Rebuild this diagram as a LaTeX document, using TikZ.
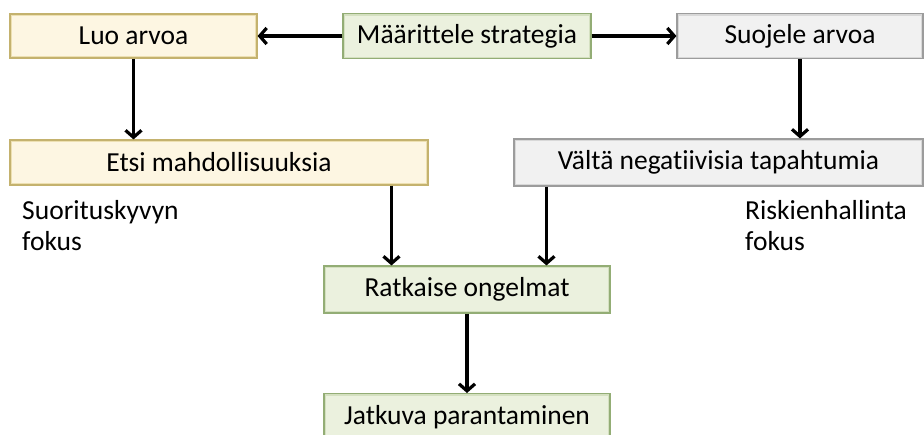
\documentclass[tikz,border=0pt]{standalone}
\usepackage{fontspec}
\setmainfont{Carlito}[Ligatures=NoCommon]
\usetikzlibrary{arrows.meta}

\definecolor{creamfill}{HTML}{FDF6E2}
\definecolor{creamedge}{HTML}{C4B26E}
\definecolor{creambevel}{HTML}{EDE0B2}
\definecolor{greenfill}{HTML}{EBF1DE}
\definecolor{greenedge}{HTML}{93AD75}
\definecolor{greenbevel}{HTML}{D4E0C0}
\definecolor{grayfill}{HTML}{F1F1F1}
\definecolor{grayedge}{HTML}{9C9C9C}
\definecolor{graybevel}{HTML}{D8D8D8}

\tikzset{
  box/.style={draw=#1edge, fill=#1fill, line width=1.1pt, inner sep=0pt,
    font=\fontsize{27.5}{32}\selectfont,
    path picture={
      \draw[#1bevel, line width=4pt]
        (path picture bounding box.south west) rectangle
        (path picture bounding box.north east);
    }},
  flow/.style={-{Straight Barb[length=7pt,width=16pt,line width=3.2pt]}, line width=3.4pt},
  note/.style={anchor=north west, align=left, inner sep=0pt,
    font=\fontsize{27.5}{31}\selectfont},
}

\begin{document}
\begin{tikzpicture}[x=1pt,y=-1pt]
  \useasboundingbox (0,0) rectangle (924,434);
  \clip (0,0) rectangle (924,434);

  % top row
  \node[box=cream, minimum width=247pt, minimum height=44pt] (luo) at (133.5,36) {Luo arvoa};
  \node[box=green, minimum width=248pt, minimum height=45pt] (strat) at (467,36) {Määrittele strategia};
  \node[box=gray,  minimum width=246pt, minimum height=45pt] (suo) at (800,36) {Suojele arvoa};

  % second row
  \node[box=cream, minimum width=418pt, minimum height=45pt] (etsi) at (219,162.5) {Etsi mahdollisuuksia};
  \node[box=gray,  minimum width=409pt, minimum height=47pt] (valta) at (718.5,162.5) {Vältä negatiivisia tapahtumia};

  % side notes
  \node[note] (perf) at (22,200) {Suorituskyvyn\\fokus};
  \node[note] (risk) at (745,200) {Riskienhallinta\\fokus};

  % lower boxes
  \node[box=green, minimum width=286pt, minimum height=47pt] (ratk) at (467,289.5) {Ratkaise ongelmat};
  \node[box=green, minimum width=286pt, minimum height=47pt, anchor=north] (jatk) at (467,393) {Jatkuva parantaminen};

  % connectors
  \draw[flow] (strat.west) -- (luo.east);
  \draw[flow] (strat.east) -- (suo.west);
  \draw[flow] (luo.south) -- (etsi.north -| luo.south);
  \draw[flow] (suo.south) -- (valta.north -| suo.south);
  \draw[flow] (etsi.south -| ratk.north west) ++(68,0) coordinate (ea) -- (ea |- ratk.north);
  \draw[flow] (valta.south -| ratk.north west) ++(223,0) coordinate (va) -- (va |- ratk.north);
  \draw[flow] (ratk.south) -- (jatk.north);
\end{tikzpicture}
\end{document}
